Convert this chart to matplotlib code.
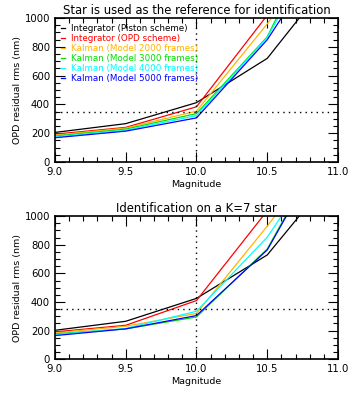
import matplotlib
matplotlib.use("Agg")
import matplotlib.pyplot as plt
from matplotlib.ticker import MultipleLocator

mag = [9.0, 9.5, 10.0, 10.5, 11.0]

labels = [
    "Integrator (Piston scheme)",
    "Integrator (OPD scheme)",
    "Kalman (Model 2000 frames)",
    "Kalman (Model 3000 frames)",
    "Kalman (Model 4000 frames)",
    "Kalman (Model 5000 frames)",
]
colors = ["black", "#ff0000", "#ffb400", "#00e000", "#00ffff", "#0000ff"]

# top panel: star used as reference
top_piston = [205, 266, 412, 720, 1340]
top_opd = [193, 240, 383, 1020, 1700]
top_k2000 = [186, 235, 353, 960, 1630]
top_k3000 = [180, 228, 336, 870, 1870]
top_k4000 = [175, 221, 322, 865, 1750]
top_k5000 = [168, 214, 306, 850, 1600]

# bottom panel: identification on K=7 star
bot_piston = [202, 265, 425, 729, 1330]
bot_opd = [191, 237, 410, 1038, 1700]
bot_k2000 = [184, 230, 320, 930, 1590]
bot_k3000 = [177, 212, 295, 771, 1660]
bot_k4000 = [172, 215, 335, 853, 1590]
bot_k5000 = [165, 212, 305, 764, 1640]

top_series = [top_piston, top_opd, top_k2000, top_k3000, top_k4000, top_k5000]
bot_series = [bot_piston, bot_opd, bot_k2000, bot_k3000, bot_k4000, bot_k5000]

plt.rcParams["font.family"] = "DejaVu Sans"
fig = plt.figure(figsize=(3.54, 3.93), dpi=100)
ax1 = fig.add_axes([0.155, 0.588, 0.80, 0.366])
ax2 = fig.add_axes([0.155, 0.086, 0.80, 0.364])


def style(ax, title):
    ax.set_xlim(9.0, 11.0)
    ax.set_ylim(0, 1000)
    ax.axvline(10.0, color="black", ls=(0, (1, 3)), lw=1)
    ax.axhline(350, color="black", ls=(0, (1, 3)), lw=1)
    ax.xaxis.set_major_locator(MultipleLocator(0.5))
    ax.xaxis.set_minor_locator(MultipleLocator(0.1))
    ax.yaxis.set_major_locator(MultipleLocator(200))
    ax.yaxis.set_minor_locator(MultipleLocator(50))
    ax.xaxis.set_major_formatter(plt.FormatStrFormatter("%.1f"))
    ax.tick_params(which="both", direction="in", top=True, right=True,
                   labelsize=7.3)
    ax.tick_params(which="major", length=7, width=0.8)
    ax.tick_params(which="minor", length=3.5, width=0.8)
    for s in ax.spines.values():
        s.set_linewidth(1.2)
    ax.set_xlabel("Magnitude", fontsize=6.8, labelpad=2)
    ax.set_ylabel("OPD residual rms (nm)", fontsize=6.8, labelpad=2)
    ax.set_title(title, fontsize=8.4, pad=3)


for vals, c, lab in zip(top_series, colors, labels):
    ax1.plot(mag, vals, color=c, lw=0.9, label=lab)
for vals, c in zip(bot_series, colors):
    ax2.plot(mag, vals, color=c, lw=0.9)

style(ax1, "Star is used as the reference for identification")
style(ax2, "Identification on a K=7 star")

ax1.legend(loc="upper left", frameon=False, fontsize=6.3, handlelength=0.5,
           handletextpad=0.6, labelspacing=0.12, borderaxespad=0.3,
           labelcolor="linecolor")

fig.savefig("out.png", dpi=100)
